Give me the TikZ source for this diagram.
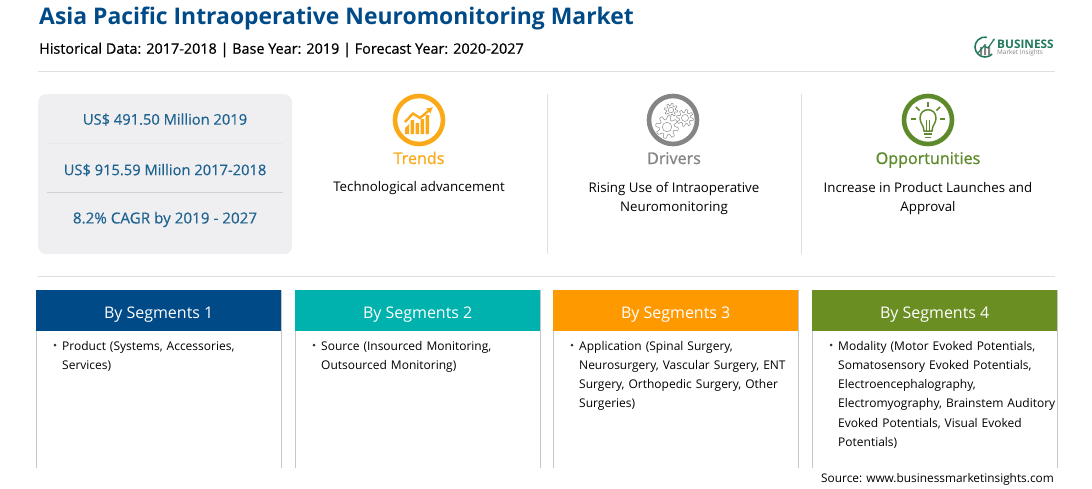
\documentclass[tikz,border=0pt]{standalone}
\usepackage{fontspec}
\setmainfont{Open Sans}
\usetikzlibrary{positioning}
\usetikzlibrary{arrows.meta}
\definecolor{navyhead}{HTML}{004B87}
\definecolor{tealhead}{HTML}{00B2AD}
\definecolor{orangehead}{HTML}{FF9900}
\definecolor{greenhead}{HTML}{6B8E23}
\definecolor{statblue}{HTML}{1F6391}
\definecolor{trendorange}{HTML}{FBA919}
\definecolor{drivergray}{HTML}{858585}
\definecolor{opgreen}{HTML}{5F8A2C}
\definecolor{panelgray}{HTML}{EFEEF0}
\definecolor{logogreen}{HTML}{1F7A5C}
\tikzset{
  x=1pt,y=-1pt,
  headbox/.style={minimum width=245pt,minimum height=41pt,inner sep=0pt,anchor=north west,text=white,text height=15pt,text depth=0pt,font=\fontsize{16}{18}\selectfont},
  bodytext/.style={anchor=north west,align=left,inner sep=0pt,text width=225pt,font=\fontsize{12}{19.2}\selectfont},
  toptext/.style={align=center,inner sep=0pt,font=\fontsize{13.3}{19.6}\selectfont},
  stat/.style={text=statblue,inner sep=0pt,font=\fontsize{14.7}{16}\selectfont\addfontfeature{FakeBold=0.4}},
  ring/.style={draw=#1,line width=4.6pt,circle,minimum size=48pt,inner sep=0pt},
  kind/.style={text=#1,inner sep=0pt,anchor=base,font=\fontsize{16.1}{18}\selectfont\addfontfeature{FakeBold=1.1}},
  rule/.style={draw=gray!25,line width=0.7pt},
  edge/.style={draw=gray!45,line width=0.7pt},
  dotmark/.style={circle,fill=black!80,inner sep=0pt,minimum size=3pt}
}
\newcommand{\gearline}[3]{% x, y, radius
  \draw[drivergray,line width=0.45pt,fill=white] plot[domain=0:360,samples=73] ({#1+#3*(1+0.2*sign(sin(8*\x)))*cos(\x)},{#2+#3*(1+0.2*sign(sin(8*\x)))*sin(\x)}) -- cycle;
  \draw[drivergray,line width=0.45pt] (#1,#2) circle (0.5*#3);
}
\begin{document}
\begin{tikzpicture}
\useasboundingbox (0,0) rectangle (1092,488);
% Title
\node[anchor=west,inner sep=0pt,text=navyhead,font=\fontsize{22.9}{26}\selectfont\bfseries] (title) at (39,18) {Asia Pacific Intraoperative Neuromonitoring Market};
\node[anchor=west,inner sep=0pt,text=black,font=\fontsize{14.4}{16}\selectfont\addfontfeature{FakeBold=0.6}] (subtitle) at (39,50) {Historical Data: 2017-2018 | Base Year: 2019 | Forecast Year: 2020-2027};
% Logo
\draw[logogreen,line width=1.6pt] (985,47) ++(45:10) arc (45:280:10);
\fill[drivergray] (980,47) rectangle (982,55) (984,44) rectangle (986,55) (988,46) rectangle (990,55);
\draw[logogreen,line width=1.2pt,-{Latex[length=3pt]}] (978,53) -- (984,46) -- (988,48) -- (995,38);
\node[anchor=west,inner sep=0pt,text=logogreen,font=\fontsize{11.8}{12}\selectfont\bfseries] (logoa) at (997,44.5) {BUSINESS};
\node[anchor=west,inner sep=0pt,text=drivergray,font=\fontsize{6.4}{8}\selectfont] (logob) at (997,53) {Market Insights};
\draw[rule] (38,71) -- (1055,71);
% Stats
\node[fill=panelgray,rounded corners=8pt,minimum width=254pt,minimum height=160pt,inner sep=0pt,anchor=north west] (statbox) at (38,94) {};
\node[stat] (stata) at (165,119.5) {US\$ 491.50 Million 2019};
\node[stat] (statb) at (165,170) {US\$ 915.59 Million 2017-2018};
\node[stat,font=\fontsize{15.2}{16}\selectfont\addfontfeature{FakeBold=0.4}] (statc) at (165,219.5) {8.2\% CAGR by 2019 - 2027};
\draw[draw=gray!18,line width=0.6pt] (47,143) -- (283,143);
\draw[draw=gray!35,line width=0.6pt] (47,192) -- (283,192);
% Trends
\node[ring=trendorange] (trendicon) at (419,120) {};
\fill[trendorange] (405,134) -- (405,128) -- (409,124) -- (409,134) -- cycle
  (410.5,134) rectangle (414,120) (415.5,134) rectangle (419,123) (420.5,134) rectangle (424,119) (425.5,134) rectangle (429,115);
\draw[trendorange,line width=2.4pt,-{Latex[length=6pt,width=7pt]}] (405,122) -- (413,113.5) -- (420,118) -- (433,107);
\node[kind=trendorange] (trends) at (419,164) {Trends};
\node[toptext] (trendtext) at (419,188) {Technological advancement};
% Drivers
\node[ring=drivergray] (drivericon) at (673,120) {};
\gearline{671}{110}{5.5}
\gearline{685}{118}{7}
\gearline{667}{127}{9.5}
\node[kind=drivergray] (drivers) at (674,164) {Drivers};
\node[toptext] (drivertext) at (674,198.5) {Rising Use of Intraoperative\\Neuromonitoring};
% Opportunities
\node[ring=opgreen] (opicon) at (928,120) {};
\draw[opgreen,line width=1.5pt] (924,131) .. controls (924,125) and (920,124) .. (920,118) .. controls (920,107) and (936,107) .. (936,118) .. controls (936,124) and (932,125) .. (932,131) -- cycle;
\draw[opgreen,line width=1pt] (926.5,131) -- (926.5,120) (929.5,131) -- (929.5,120);
\draw[opgreen,line width=1.6pt] (924,134) -- (932,134) (925,137.5) -- (931,137.5);
\foreach \a in {180,225,270,315,360}
  \draw[opgreen,line width=1.5pt] (928,119) ++(\a:12) -- ++(\a:5);
\node[kind=opgreen] (oppts) at (928,164) {Opportunities};
\node[toptext] (optext) at (928,198.5) {Increase in Product Launches and\\Approval};
% Column rules
\draw[rule] (547,94) -- (547,254);
\draw[rule] (801,94) -- (801,254);
\draw[rule] (38,276) -- (1055,276);
% Segments
\foreach \xa/\name/\col/\num in {36/sega/navyhead/1,295/segb/tealhead/2,553/segc/orangehead/3,812/segd/greenhead/4}{
  \draw[edge] (\xa,290) -- (\xa,468) (\xa+245,290) -- (\xa+245,468);
  \node[headbox,fill=\col] (\name) at (\xa,290) {By Segments \num};
}
\node[dotmark] (dota) at (55,345) {};
\node[bodytext] (bodya) at (62,341) {Product (Systems, Accessories,\\Services)};
\node[dotmark] (dotb) at (314,345) {};
\node[bodytext] (bodyb) at (321,341) {Source (Insourced Monitoring,\\Outsourced Monitoring)};
\node[dotmark] (dotc) at (572,345) {};
\node[bodytext] (bodyc) at (579,341) {Application (Spinal Surgery,\\Neurosurgery, Vascular Surgery, ENT\\Surgery, Orthopedic Surgery, Other\\Surgeries)};
\node[dotmark] (dotd) at (831,345) {};
\node[bodytext] (bodyd) at (838,341) {Modality (Motor Evoked Potentials,\\Somatosensory Evoked Potentials,\\Electroencephalography,\\Electromyography, Brainstem Auditory\\Evoked Potentials, Visual Evoked\\Potentials)};
% Source
\node[anchor=east,inner sep=0pt,font=\fontsize{11.85}{14}\selectfont] (source) at (1054,479) {Source: www.businessmarketinsights.com};
\end{tikzpicture}
\end{document}
